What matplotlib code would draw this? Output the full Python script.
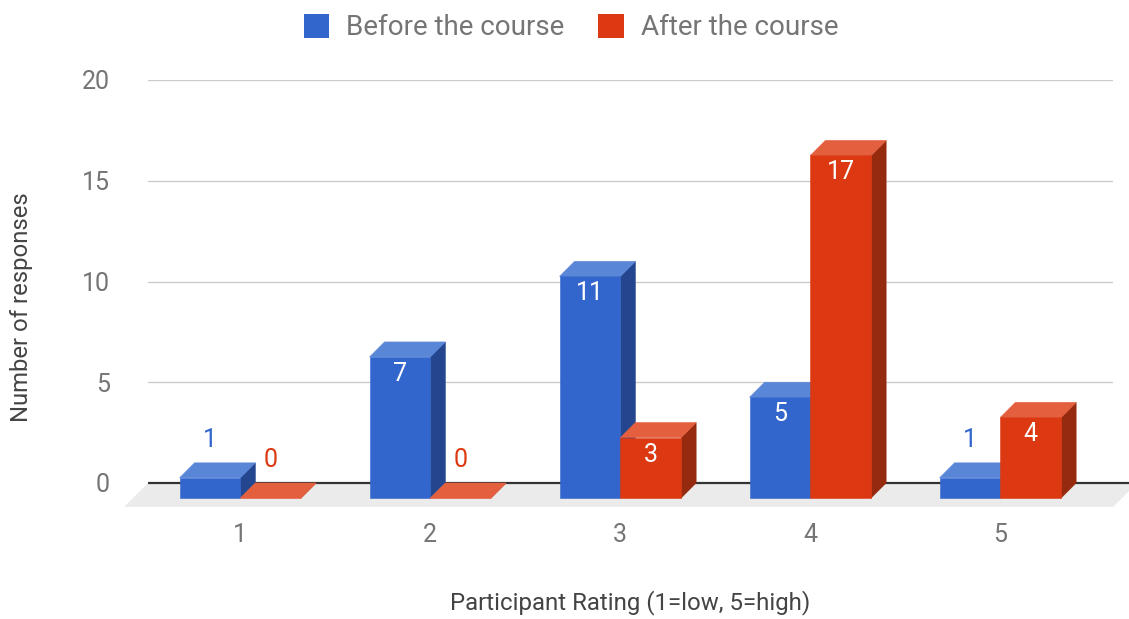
import matplotlib.pyplot as plt
from matplotlib.patches import Polygon, Patch

plt.rcParams['font.family'] = ['Roboto', 'DejaVu Sans']

ratings = [1, 2, 3, 4, 5]
before = [1, 7, 11, 5, 1]
after = [0, 0, 3, 17, 4]
series_names = ['Before the course', 'After the course']
y_ticks = [0, 5, 10, 15, 20]

# front / top / side shades for the pseudo-3D bars
shades = [
    {'front': '#3366cc', 'top': '#5a86d8', 'side': '#23468e'},
    {'front': '#dc3912', 'top': '#e35f3e', 'side': '#952a0e'},
]

W, H = 1129, 619
fig = plt.figure(figsize=(W / 100, H / 100), dpi=100)

# plot area (back wall) in pixels
left, right, top, bottom = 148, 1113, 80, 483
ax = fig.add_axes([left / W, 1 - bottom / H, (right - left) / W, (bottom - top) / H])
xmin, xmax = 0.435, 5.514
ax.set_xlim(xmin, xmax)
ax.set_ylim(0, 20)
ax.set_facecolor('none')
for s in ax.spines.values():
    s.set_visible(False)

ux = (xmax - xmin) / (right - left)   # data units per pixel
uy = 20 / (bottom - top)
px2pt = 0.72
depth = 15          # bar depth, px
floor_depth = 24    # floor depth, px
ddx, ddy = depth * ux, depth * uy
fdx, fdy = floor_depth * ux, floor_depth * uy
bar_w = 0.32

# floor
ax.add_patch(Polygon([(xmin, 0), (xmax + fdx, 0), (xmax, -fdy), (xmin - fdx, -fdy)],
                     closed=True, facecolor='#ebebeb', edgecolor='none',
                     clip_on=False, zorder=0))

for y in y_ticks[1:]:
    ax.axhline(y, color='#cccccc', lw=1, zorder=1)
ax.plot([xmin, xmax + fdx], [0, 0], color='#333333', lw=1.6, clip_on=False,
        solid_capstyle='butt', zorder=2)


def draw_bar(x0, v, sh):
    x1 = x0 + bar_w
    front = [(x0 - ddx, -ddy), (x1 - ddx, -ddy), (x1 - ddx, v - ddy), (x0 - ddx, v - ddy)]
    topf = [(x0 - ddx, v - ddy), (x1 - ddx, v - ddy), (x1, v), (x0, v)]
    side = [(x1 - ddx, -ddy), (x1, 0), (x1, v), (x1 - ddx, v - ddy)]
    for pts, key in [(side, 'side'), (topf, 'top'), (front, 'front')]:
        ax.add_patch(Polygon(pts, closed=True, facecolor=sh[key], edgecolor=sh[key],
                             lw=0.4, clip_on=False, zorder=3))


for i, r in enumerate(ratings):
    for k, vals in enumerate([before, after]):
        v = vals[i]
        x0 = r - bar_w if k == 0 else r
        draw_bar(x0, v, shades[k])
        xc = x0 + bar_w / 2 - ddx
        if v >= 2:
            ax.annotate(str(v), xy=(xc, v - ddy), xytext=(0, -17 * px2pt),
                        textcoords='offset points', ha='center', va='center',
                        fontsize=18, color='white', zorder=5, annotation_clip=False)
        else:
            ax.annotate(str(v), xy=(xc, v - ddy), xytext=(0, 38 * px2pt),
                        textcoords='offset points', ha='center', va='center',
                        fontsize=18, color=shades[k]['front'], zorder=5,
                        annotation_clip=False)

# category labels sit under the front faces
ax.set_xticks([])
for r in ratings:
    ax.annotate(str(r), xy=(r - ddx, 0), xytext=(0, -52 * px2pt),
                textcoords='offset points', ha='center', va='center',
                fontsize=18, color='#757575', annotation_clip=False)

ax.set_yticks(y_ticks)
ax.set_yticklabels([str(t) for t in y_ticks])
ax.tick_params(axis='y', length=0, pad=38 * px2pt, labelsize=18, labelcolor='#757575')

fig.text(630 / W, 1 - 603 / H, 'Participant Rating (1=low, 5=high)', ha='center',
         va='center', fontsize=17.3, color='#444444')
fig.text(22 / W, 1 - 307 / H, 'Number of responses', ha='center', va='center',
         rotation=90, fontsize=17.2, color='#444444')

handles = [Patch(facecolor=shades[k]['front'], edgecolor='none', label=series_names[k])
           for k in range(2)]
fig.legend(handles=handles, loc='upper center', bbox_to_anchor=(571 / W, 1 - 3 / H),
           ncol=2, frameon=False, fontsize=20, handlelength=0.92, handleheight=0.92,
           handletextpad=0.62, columnspacing=1.2, labelcolor='#757575',
           borderaxespad=0.0)

fig.savefig('out.png', dpi=100)
